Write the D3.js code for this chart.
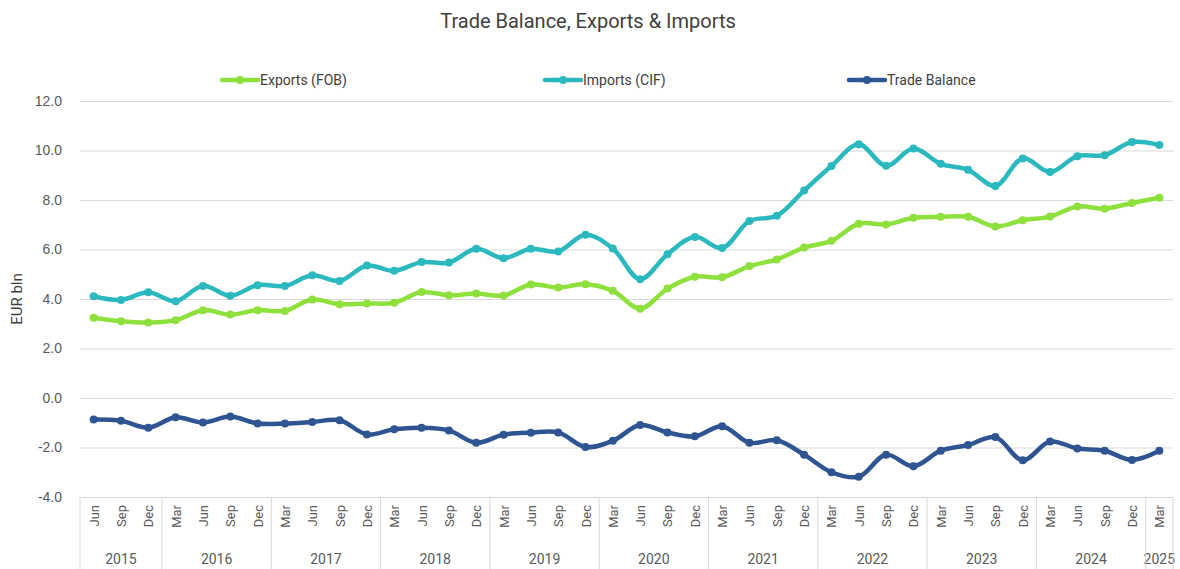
<!DOCTYPE html>
<html>
<head>
<meta charset="utf-8">
<script src="https://cdn.jsdelivr.net/npm/d3@7"></script>
<style>
  body { margin: 0; background: #fff; }
  svg { font-family: Roboto, "Open Sans", sans-serif; }
</style>
</head>
<body>
<svg id="chart"></svg>
<script>
const WIDTH = 1180;
const HEIGHT = 569;
const MARGIN = { left: 80, right: 7, top: 101, bottom: 72 };

// quarter-end periods, Jun 2015 .. Mar 2025
const periods = [
  "Jun 2015", "Sep 2015", "Dec 2015",
  "Mar 2016", "Jun 2016", "Sep 2016", "Dec 2016",
  "Mar 2017", "Jun 2017", "Sep 2017", "Dec 2017",
  "Mar 2018", "Jun 2018", "Sep 2018", "Dec 2018",
  "Mar 2019", "Jun 2019", "Sep 2019", "Dec 2019",
  "Mar 2020", "Jun 2020", "Sep 2020", "Dec 2020",
  "Mar 2021", "Jun 2021", "Sep 2021", "Dec 2021",
  "Mar 2022", "Jun 2022", "Sep 2022", "Dec 2022",
  "Mar 2023", "Jun 2023", "Sep 2023", "Dec 2023",
  "Mar 2024", "Jun 2024", "Sep 2024", "Dec 2024",
  "Mar 2025"
];

const exportsFob = [
  3.24, 3.10, 3.05,
  3.14, 3.55, 3.37, 3.55,
  3.52, 3.98, 3.79, 3.82,
  3.85, 4.28, 4.15, 4.22,
  4.14, 4.59, 4.46, 4.60,
  4.33, 3.61, 4.42, 4.90,
  4.88, 5.33, 5.60, 6.08,
  6.35, 7.04, 7.01, 7.28,
  7.32, 7.32, 6.93, 7.18,
  7.33, 7.74, 7.65, 7.88,
  8.09
];

const importsCif = [
  4.11, 3.96, 4.27,
  3.91, 4.53, 4.13, 4.56,
  4.53, 4.96, 4.73, 5.35,
  5.14, 5.49, 5.47, 6.03,
  5.65, 6.03, 5.92, 6.60,
  6.04, 4.80, 5.81, 6.51,
  6.06, 7.15, 7.36, 8.38,
  9.37, 10.25, 9.38, 10.08,
  9.46, 9.22, 8.57, 9.68,
  9.13, 9.77, 9.81, 10.34,
  10.22
];

const tradeBalance = [
  -0.87, -0.92, -1.20,
  -0.78, -0.99, -0.75, -1.03,
  -1.03, -0.97, -0.90, -1.47,
  -1.26, -1.20, -1.31, -1.81,
  -1.48, -1.40, -1.39, -1.98,
  -1.73, -1.09, -1.39, -1.55,
  -1.14, -1.81, -1.71, -2.29,
  -3.00, -3.18, -2.29, -2.76,
  -2.13, -1.90, -1.58, -2.52,
  -1.76, -2.04, -2.13, -2.50,
  -2.13
];

const yTicks = [-4, -2, 0, 2, 4, 6, 8, 10, 12];

const seriesList = [
  { name: "Exports (FOB)", values: exportsFob, color: "#8ee03c", legendX: 222 },
  { name: "Imports (CIF)", values: importsCif, color: "#2bb9bf", legendX: 545 },
  { name: "Trade Balance", values: tradeBalance, color: "#2e5591", legendX: 849 }
];

const svg = d3.select("#chart")
  .attr("width", WIDTH)
  .attr("height", HEIGHT);

const x = d3.scaleBand()
  .domain(periods)
  .range([MARGIN.left, WIDTH - MARGIN.right])
  .padding(0);

const y = d3.scaleLinear()
  .domain([-4, 12])
  .range([HEIGHT - MARGIN.bottom, MARGIN.top]);

const cx = p => x(p) + x.bandwidth() / 2;

// title
svg.append("text")
  .attr("x", WIDTH / 2 - 2)
  .attr("y", 28)
  .attr("text-anchor", "middle")
  .attr("font-size", 20)
  .attr("fill", "#404040")
  .text("Trade Balance, Exports & Imports");

// gridlines + y labels
const yAxis = d3.axisLeft(y)
  .tickValues(yTicks)
  .tickSize(-(WIDTH - MARGIN.right - MARGIN.left))
  .tickPadding(18)
  .tickFormat(d => d.toFixed(1));

const gy = svg.append("g")
  .attr("transform", `translate(${MARGIN.left},0)`)
  .call(yAxis);
gy.select(".domain").remove();
gy.selectAll(".tick line").attr("stroke", "#d9d9d9").attr("stroke-width", 1);
gy.selectAll(".tick text")
  .attr("fill", "#595959")
  .attr("font-size", 14);

svg.append("text")
  .attr("transform", `translate(22,${y(4)}) rotate(-90)`)
  .attr("text-anchor", "middle")
  .attr("font-size", 15)
  .attr("fill", "#404040")
  .text("EUR bln");

// x axis: months rotated, years grouped below
const xBase = y(-4);
const gx = svg.append("g");

gx.selectAll(".month")
  .data(periods)
  .enter()
  .append("text")
  .attr("class", "month")
  .attr("transform", p => `translate(${cx(p) + 5},${xBase + 8}) rotate(-90)`)
  .attr("text-anchor", "end")
  .attr("font-size", 13)
  .attr("fill", "#595959")
  .text(p => p.split(" ")[0]);

const years = Array.from(new Set(periods.map(p => p.split(" ")[1])));
const yearGroups = years.map(yr => {
  const ps = periods.filter(p => p.endsWith(yr));
  return { year: yr, x0: x(ps[0]), x1: x(ps[ps.length - 1]) + x.bandwidth() };
});

gx.selectAll(".year")
  .data(yearGroups)
  .enter()
  .append("text")
  .attr("class", "year")
  .attr("x", d => (d.x0 + d.x1) / 2)
  .attr("y", HEIGHT - 5)
  .attr("text-anchor", "middle")
  .attr("font-size", 14)
  .attr("fill", "#595959")
  .text(d => d.year);

const seps = [MARGIN.left].concat(yearGroups.map(d => d.x1));
gx.selectAll(".sep")
  .data(seps)
  .enter()
  .append("line")
  .attr("x1", d => d).attr("x2", d => d)
  .attr("y1", xBase).attr("y2", HEIGHT)
  .attr("stroke", "#d9d9d9");

// lines
const line = d3.line()
  .x((d, i) => cx(periods[i]))
  .y(d => y(d))
  .curve(d3.curveCatmullRom.alpha(0.5));

seriesList.forEach(s => {
  svg.append("path")
    .datum(s.values)
    .attr("fill", "none")
    .attr("stroke", s.color)
    .attr("stroke-width", 4.5)
    .attr("stroke-linejoin", "round")
    .attr("d", line);

  svg.append("g")
    .selectAll("circle")
    .data(s.values)
    .enter()
    .append("circle")
    .attr("cx", (d, i) => cx(periods[i]))
    .attr("cy", d => y(d))
    .attr("r", 4)
    .attr("fill", s.color);
});

// legend
const legend = svg.append("g");
seriesList.forEach(s => {
  const g = legend.append("g").attr("transform", `translate(${s.legendX},80)`);
  g.append("line")
    .attr("x1", 0).attr("x2", 36)
    .attr("stroke", s.color)
    .attr("stroke-width", 4.5)
    .attr("stroke-linecap", "round");
  g.append("circle").attr("cx", 18).attr("r", 4).attr("fill", s.color);
  g.append("text")
    .attr("x", 38)
    .attr("y", 5)
    .attr("font-size", 14)
    .attr("fill", "#404040")
    .text(s.name);
});
</script>
</body>
</html>
